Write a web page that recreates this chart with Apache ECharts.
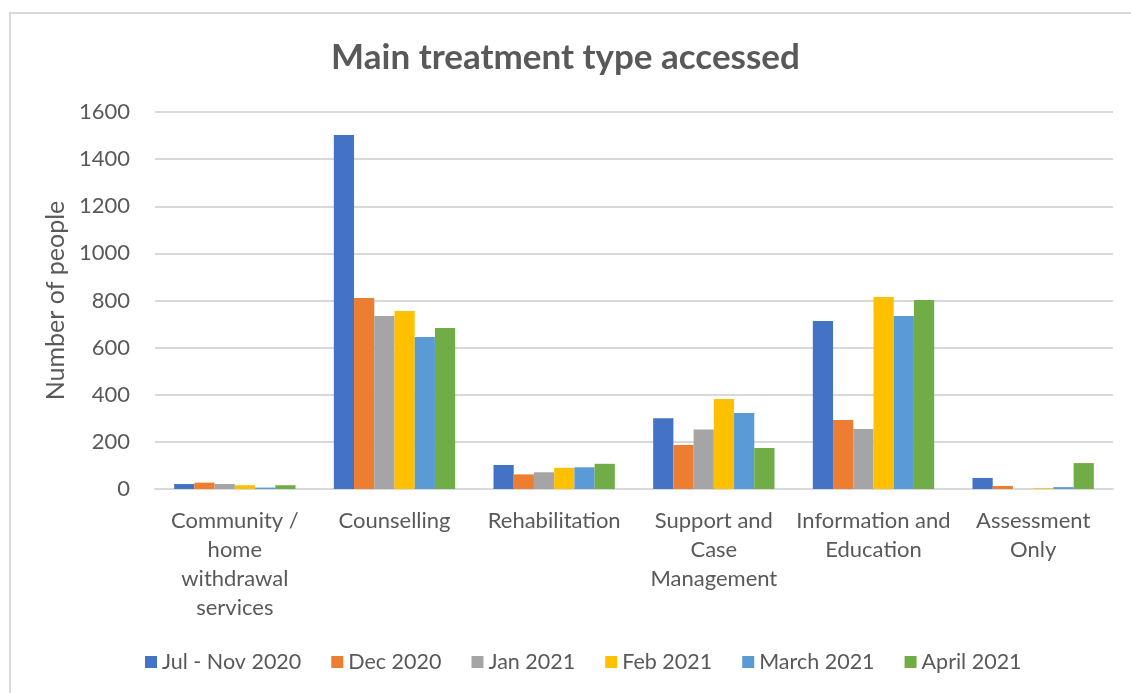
<!DOCTYPE html>
<html>
<head>
<meta charset="utf-8">
<script src="https://cdn.jsdelivr.net/npm/echarts@6/dist/echarts.min.js"></script>
<style>
  html, body { margin: 0; padding: 0; background: #fff; }
  #frame { position: absolute; left: 9px; top: 12px; width: 1130px; height: 690px; border: 2px solid #d9d9d9; box-sizing: border-box; }
  #chart { position: absolute; left: 0; top: 0; width: 1131px; height: 693px; }
</style>
</head>
<body>
<div id="frame"></div>
<div id="chart"></div>
<script>
// categories and series
const categories = [
  'Community /\nhome\nwithdrawal\nservices',
  'Counselling',
  'Rehabilitation',
  'Support and\nCase\nManagement',
  'Information and\nEducation',
  'Assessment\nOnly'
];
const seriesNames = ['Jul - Nov 2020', 'Dec 2020', 'Jan 2021', 'Feb 2021', 'March 2021', 'April 2021'];
const julNov = [21, 1502, 102, 300, 713, 47];
const dec20 = [27, 811, 62, 187, 293, 13];
const jan21 = [21, 734, 71, 252, 255, 0];
const feb21 = [16, 755, 90, 382, 815, 3];
const mar21 = [6, 645, 92, 323, 734, 8];
const apr21 = [16, 683, 107, 174, 802, 110];
const colors = ['#4472C4', '#ED7D31', '#A5A5A5', '#FFC000', '#5B9BD5', '#70AD47'];

const allData = [julNov, dec20, jan21, feb21, mar21, apr21];
const font = 'Lato, "Open Sans", sans-serif';

var myChart = echarts.init(document.getElementById('chart'));
let option = {
  color: colors,
  title: {
    text: 'Main treatment type accessed',
    left: 'center',
    top: 35,
    textStyle: { fontFamily: font, fontSize: 35, fontWeight: 'bold', color: '#595959' }
  },
  legend: {
    bottom: 15,
    left: 140,
    itemWidth: 12,
    itemHeight: 12,
    itemGap: 30,
    icon: 'rect',
    textStyle: { fontFamily: font, fontSize: 21.5, color: '#595959' },
    data: seriesNames
  },
  grid: { left: 155, right: 18, top: 112, bottom: 204 },
  xAxis: {
    type: 'category',
    data: categories,
    axisLine: { lineStyle: { color: '#d9d9d9', width: 2 } },
    axisTick: { show: false },
    axisLabel: { fontFamily: font, fontSize: 22, color: '#595959', lineHeight: 29, margin: 17, interval: 0 }
  },
  yAxis: {
    type: 'value',
    min: 0,
    max: 1600,
    interval: 200,
    name: 'Number of people',
    nameLocation: 'middle',
    nameGap: 85,
    nameTextStyle: { fontFamily: font, fontSize: 25, color: '#595959' },
    axisLine: { show: false },
    axisTick: { show: false },
    axisLabel: { fontFamily: font, fontSize: 22, color: '#595959', margin: 25, formatter: v => String(v) },
    splitLine: { lineStyle: { color: '#d9d9d9', width: 2 } }
  },
  series: seriesNames.map((name, i) => ({
    name: name,
    type: 'bar',
    data: allData[i],
    barGap: '0%',
    barCategoryGap: '24%',
    itemStyle: { color: colors[i] }
  }))
};
myChart.setOption(option);
</script>
</body>
</html>
